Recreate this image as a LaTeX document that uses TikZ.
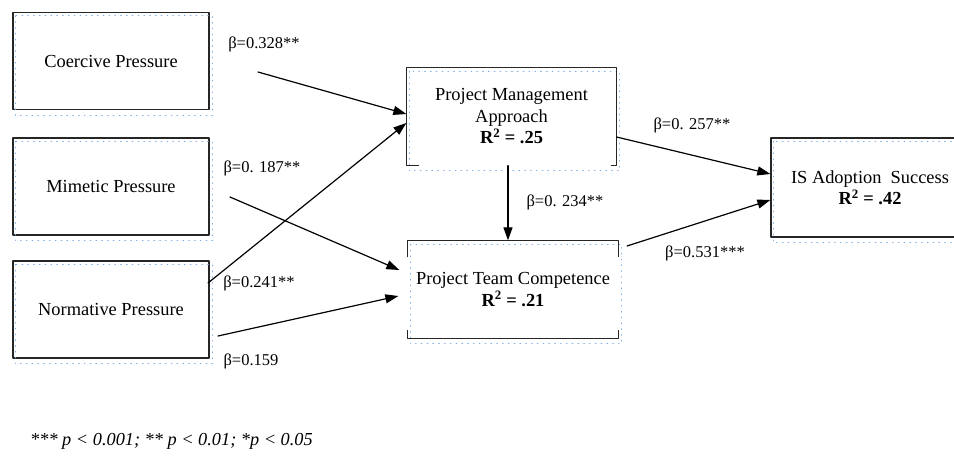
\documentclass[tikz,border=0pt]{standalone}
\usepackage{fontspec}
\setmainfont{Liberation Serif}
\usetikzlibrary{calc}
\usetikzlibrary{arrows.meta}

\definecolor{tbblue}{RGB}{125,175,230}

\begin{document}
\begin{tikzpicture}[x=1pt, y=-1pt, line cap = round, line join = round, >={Triangle[length=13pt,width=9pt]}]
\tikzstyle{factor}=[draw=black!85, line width=1.3pt, minimum width=196pt, minimum height=97pt, inner sep=0pt, align=center, font=\fontsize{18.4}{21.5}\selectfont]
\tikzstyle{outcome}=[factor, draw=none]
\tikzstyle{boxline}=[draw=black!85, line width=1.3pt, line cap=butt]
\tikzstyle{tbframe}=[draw=tbblue, line width=0.8pt, dash pattern=on 0.8pt off 5pt]
\tikzstyle{beta}=[inner sep=1pt, font=\fontsize{16.5}{18}\selectfont]
\tikzstyle{link}=[->, line width=1.2pt]
\useasboundingbox (0,0) rectangle (954,456);

\node[factor] (coercive) at (111,61) {Coercive Pressure};
\node[factor] (mimetic) at (111,186.5) {Mimetic Pressure};
\node[factor] (normative) at (111,309.5) {Normative Pressure};
\node[outcome, minimum width=209pt] (pma) at (511.5,116.5) {Project Management\\Approach\\\textbf{R\textsuperscript{2} = .25}};
\node[outcome, minimum width=210pt] (ptc) at (513,289.5) {Project Team Competence\\\textbf{R\textsuperscript{2} = .21}};
\node[factor, minimum width=198pt, minimum height=99pt] (isa) at (870,187.5) {IS Adoption~ Success\\\textbf{R\textsuperscript{2} = .42}};

% text box frames
\foreach \n in {coercive,mimetic,normative,pma,ptc,isa}
  \draw[tbframe] ($(\n.north west)+(3,4)$) rectangle ($(\n.south east)+(3,5)$);

% broken outlines
\draw[boxline] ($(pma.south west)+(13,0)$) -| (pma.north west) -| (pma.south east) -- ++(-6,0);
\draw[boxline] ($(ptc.north west)+(0,17)$) |- (ptc.north east) -- ++(0,17);
\draw[boxline] ($(ptc.south west)+(0,-9)$) |- (ptc.south east) -- ++(0,-9);

\coordinate (cp) at (258,72);
\coordinate (mpa) at (230,197);
\coordinate (npa) at (208,283);
\coordinate (npb) at (218,336);
\coordinate (ptcout) at (627,246);

\draw[link] (cp) -- ($(pma.west)+(0,-2.5)$);
\draw[link] (npa) -- ($(pma.west)+(0,6.5)$);
\draw[link] (mpa) -- ($(ptc.west)+(-8,-19.5)$);
\draw[link] (npb) -- ($(ptc.west)+(-9,6.5)$);
\draw[link] ($(pma.south)+(-3.5,0)$) -- ($(ptc.north)+(-5,0)$);
\draw[link] ($(pma.east)+(0,20.5)$) -- ($(isa.west)+(0,-13.5)$);
\draw[link] (ptcout) -- ($(isa.west)+(0,12.5)$);

\node[beta] (b1) at (264,44) {β=0.328**};
\node[beta] (b2) at (262,168) {β=0. 187**};
\node[beta] (b3) at (259,283) {β=0.241**};
\node[beta] (b4) at (251,361) {β=0.159};
\node[beta] (b5) at (565,202) {β=0. 234**};
\node[beta] (b6) at (692,125) {β=0. 257**};
\node[beta] (b7) at (705,253) {β=0.531***};

\node[anchor=west, inner sep=0pt, font=\fontsize{18.3}{20}\selectfont\itshape] (note) at (30,441) {*** p < 0.001; ** p < 0.01; *p < 0.05};
\end{tikzpicture}
\end{document}
